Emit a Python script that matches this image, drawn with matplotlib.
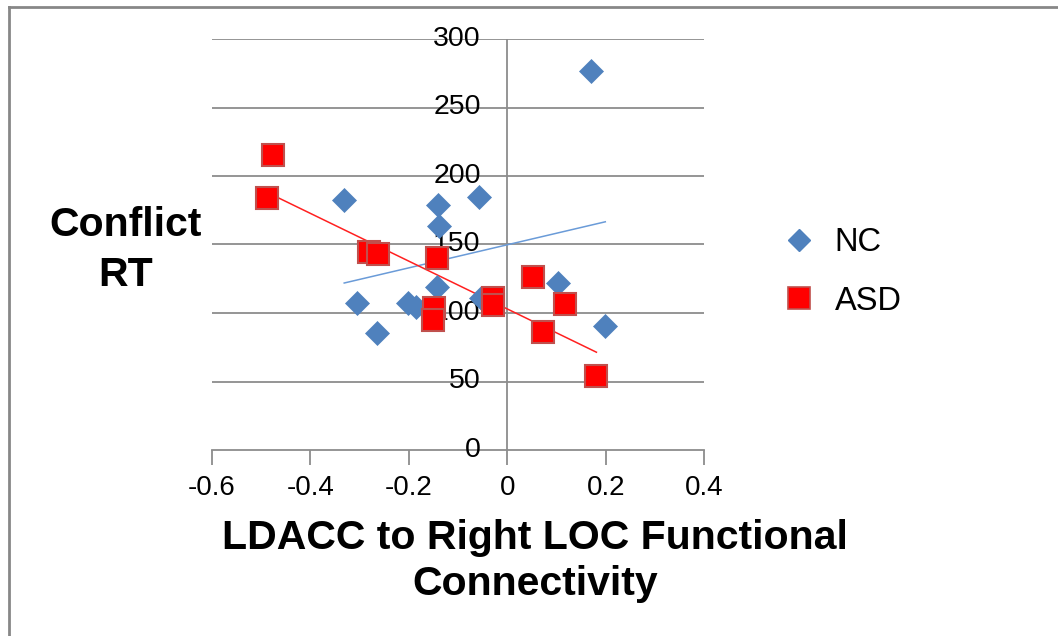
import numpy as np
import matplotlib
matplotlib.use("Agg")
import matplotlib.pyplot as plt
from matplotlib.lines import Line2D

plt.rcParams['font.family'] = ['Liberation Sans', 'DejaVu Sans']

# NC group
nc_x = [0.170, -0.331, -0.140, -0.057, -0.138, -0.143, -0.306, -0.202, -0.186, -0.265, -0.054, 0.104, 0.199]
nc_y = [277, 182.5, 178.5, 184.4, 163.7, 119.2, 107.5, 107.5, 104.6, 85.6, 110.7, 121.7, 90.7]
# ASD group
asd_x = [-0.476, -0.487, -0.280, -0.263, -0.142, -0.149, -0.151, -0.028, -0.028, 0.052, 0.118, 0.072, 0.181]
asd_y = [215, 184, 144.7, 143.1, 139.9, 103.4, 94.9, 110.7, 105.8, 126.5, 106.6, 85.9, 54.0]

x_ticks = [-0.6, -0.4, -0.2, 0, 0.2, 0.4]
x_tick_labels = ['-0.6', '-0.4', '-0.2', '0', '0.2', '0.4']
y_ticks = [0, 50, 100, 150, 200, 250, 300]
y_tick_labels = ['0', '50', '100', '150', '200', '250', '300']

W, H = 1058, 636
fig = plt.figure(figsize=(W / 100, H / 100), dpi=100)
ax = fig.add_axes([211.7 / W, 1 - 450 / H, (704.3 - 211.7) / W, (450 - 39) / H])

grid_c = '#8C8C8C'
ax.set_xlim(-0.6, 0.4)
ax.set_ylim(0, 300)
for s in ['top', 'right', 'left']:
    ax.spines[s].set_visible(False)
ax.spines['bottom'].set_color(grid_c)
ax.spines['bottom'].set_linewidth(1.3)
for yv in y_ticks[1:]:
    ax.axhline(yv, color=grid_c, lw=1.3, zorder=0)
ax.axvline(0, color=grid_c, lw=1.3, zorder=0)

ax.set_xticks(x_ticks)
ax.set_xticklabels(x_tick_labels, fontsize=20)
ax.tick_params(axis='x', direction='out', length=11, width=1.3, color=grid_c, pad=7)
ax.set_yticks([])
for yv, lab in zip(y_ticks, y_tick_labels):
    ax.annotate(lab, xy=(0, yv), xycoords='data', xytext=(-19, 0), textcoords='offset points',
                ha='right', va='center', fontsize=20.5)

nc_col = '#4F81BD'
ax.plot(nc_x, nc_y, linestyle='none', marker='D', ms=12.5, mfc=nc_col, mec=nc_col, mew=0.5, zorder=3, label='NC')
ax.plot(asd_x, asd_y, linestyle='none', marker='s', ms=15.5, mfc='#FF0000', mec='#C0504D', mew=1.5, zorder=4, label='ASD')

# linear trendlines
for xs, ys, c in [(nc_x, nc_y, '#6A9BD8'), (asd_x, asd_y, '#FF2020')]:
    xs = np.array(xs); ys = np.array(ys)
    k, b = np.polyfit(xs, ys, 1)
    xx = np.array([xs.min(), xs.max()])
    ax.plot(xx, k * xx + b, color=c, lw=1.1, zorder=2)

fig.text(126 / W, 1 - 250 / H, 'Conflict\nRT', ha='center', va='center', fontsize=29.5,
         fontweight='bold', linespacing=1.39)
fig.text(535 / W, 1 - 561 / H, 'LDACC to Right LOC Functional\nConnectivity', ha='center', va='center',
         fontsize=29.5, fontweight='bold', linespacing=1.26)

handles = [Line2D([], [], linestyle='none', marker='D', ms=11.5, mfc=nc_col, mec=nc_col),
           Line2D([], [], linestyle='none', marker='s', ms=15.5, mfc='#FF0000', mec='#C0504D', mew=1.2)]
fig.legend(handles, ['NC', 'ASD'], loc='center left', bbox_to_anchor=(753 / W, 1 - 272 / H),
           frameon=False, fontsize=23.5, handlelength=1.0, handletextpad=0.6, labelspacing=0.85)

border_c = '#878787'
fig.add_artist(Line2D([9 / W, 1], [1 - 7 / H, 1 - 7 / H], color=border_c, lw=2))
fig.add_artist(Line2D([9 / W, 9 / W], [0, 1 - 7 / H], color=border_c, lw=2))

fig.savefig('out.png', dpi=100)
